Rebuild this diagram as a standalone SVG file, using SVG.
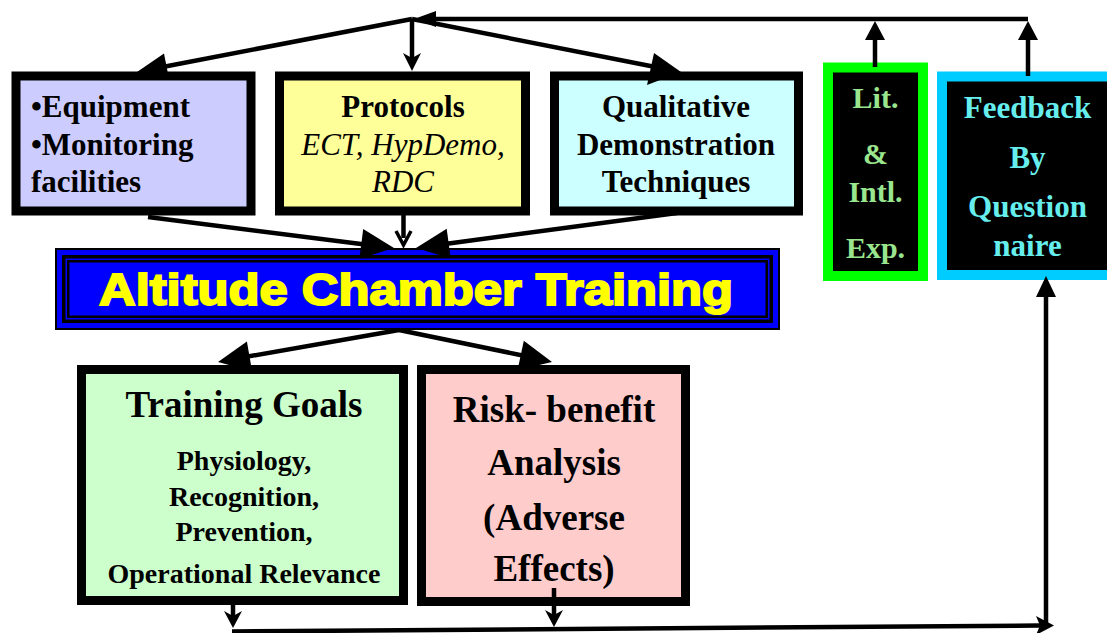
<svg xmlns="http://www.w3.org/2000/svg" width="1107" height="633" viewBox="0 0 1107 633">
<style>
.box{stroke:#000;stroke-width:9}
.t{font-family:"Liberation Serif","Times New Roman",serif;font-weight:bold;font-size:31px;fill:#000}
.c{text-anchor:middle}
.it{font-weight:normal;font-style:italic}
.ln{stroke:#000;stroke-width:4.5;fill:none}
.ah{fill:#000;stroke:none}
</style>
<rect width="1107" height="633" fill="#fff"/>
<g id="equipment">
<rect class="box" x="16" y="76" width="235" height="135" fill="#CCCCFF"/>
<text class="t" x="31" y="117">•Equipment</text>
<text class="t" x="31" y="155">•Monitoring</text>
<text class="t" x="31" y="192">facilities</text>
</g>
<g id="protocols">
<rect class="box" x="279.5" y="76" width="246" height="135" fill="#FFFF99"/>
<text class="t c" x="403" y="117">Protocols</text>
<text class="t c it" x="403" y="155">ECT, HypDemo,</text>
<text class="t c it" x="403" y="192">RDC</text>
</g>
<g id="qualitative">
<rect class="box" x="554.5" y="76" width="244" height="135" fill="#CCFFFF"/>
<text class="t c" x="676" y="117">Qualitative</text>
<text class="t c" x="676" y="155">Demonstration</text>
<text class="t c" x="676" y="192">Techniques</text>
</g>
<g id="literature">
<rect x="828" y="67.5" width="95" height="208.5" fill="#000" stroke="#00FF00" stroke-width="10"/>
<g class="t c" style="fill:#99E68F;font-size:30px">
<text x="875.5" y="108">Lit.</text>
<text x="875.5" y="164">&amp;</text>
<text x="875.5" y="202">Intl.</text>
<text x="875.5" y="258">Exp.</text>
</g>
</g>
<g id="feedback">
<rect x="942" y="76.5" width="200" height="198.5" fill="#000" stroke="#00CCFF" stroke-width="10"/>
<g class="t c" style="fill:#66EEEE">
<text x="1027.5" y="118">Feedback</text>
<text x="1027.5" y="168">By</text>
<text x="1027.5" y="217">Question</text>
<text x="1027.5" y="256">naire</text>
</g>
</g>
<g id="act">
<rect x="55" y="248" width="725" height="82" fill="#000"/>
<rect x="57" y="250" width="721" height="78" fill="#0000FF"/>
<rect x="62" y="255" width="711" height="68" fill="#000"/>
<rect x="65.5" y="258.5" width="704" height="61" fill="#0000FF"/>
<rect x="67" y="260" width="701" height="58" fill="#000"/>
<rect x="69.5" y="262.5" width="696" height="53" fill="#0000FF"/>
<text x="416" y="305" text-anchor="middle" textLength="634" lengthAdjust="spacingAndGlyphs" style="font-family:'Liberation Sans',Arial,sans-serif;font-weight:bold;font-size:45px;fill:#FFFF00;stroke:#FFFF00;stroke-width:2">Altitude Chamber Training</text>
</g>
<g id="goals">
<rect class="box" x="81.5" y="369.5" width="322" height="231" fill="#CCFFCC"/>
<text class="t c" x="244" y="417" style="font-size:37px">Training Goals</text>
<g class="t c" style="font-size:28px">
<text x="244" y="470">Physiology,</text>
<text x="244" y="506">Recognition,</text>
<text x="244" y="541">Prevention,</text>
<text x="244" y="583">Operational Relevance</text>
</g>
</g>
<g id="risk">
<rect class="box" x="421.5" y="369.5" width="264" height="232" fill="#FFCCCC"/>
<g class="t c" style="font-size:37px">
<text x="554" y="422">Risk- benefit</text>
<text x="554" y="475">Analysis</text>
<text x="554" y="530">(Adverse</text>
<text x="554" y="581">Effects)</text>
</g>
</g>
<g id="connectors">
<line class="ln" x1="432" y1="19" x2="1028" y2="19"/>
<polygon class="ah" points="414,19 436,11 436,27"/>
<line class="ln" x1="412" y1="19" x2="160" y2="67.5"/>
<polygon class="ah" points="137,72 169,79 164,53.5"/>
<line class="ln" x1="412" y1="19" x2="412" y2="58"/>
<polygon class="ah" points="412,71 403,53 412,58 421,53"/>
<line class="ln" x1="412" y1="19" x2="658" y2="67.5"/>
<polygon class="ah" points="681,72 647,85 654,53"/>
<line class="ln" x1="875" y1="67" x2="875" y2="36"/>
<polygon class="ah" points="875,21 865,40 885,40"/>
<line class="ln" x1="1028" y1="76" x2="1028" y2="36"/>
<polygon class="ah" points="1028,21 1018,40 1038,40"/>
<line class="ln" x1="148" y1="217" x2="365" y2="244.5"/>
<polygon class="ah" points="394,248 359.4,258.8 363.2,229"/>
<line class="ln" x1="677" y1="213" x2="445" y2="244"/>
<polygon class="ah" points="416,248 450.7,258.5 446.7,228.7"/>
<line class="ln" x1="403.5" y1="215" x2="403.5" y2="238"/>
<polyline points="396,231 403.5,245 411,231" fill="none" stroke="#000" stroke-width="3.5"/>
<line class="ln" x1="399" y1="330" x2="245" y2="357"/>
<polygon class="ah" points="218,362 252.1,371.2 246.9,341.6"/>
<line class="ln" x1="399" y1="330" x2="525" y2="356"/>
<polygon class="ah" points="552,362 517.6,370.1 523.8,340.7"/>
<line class="ln" x1="233" y1="605" x2="233" y2="618"/>
<polygon class="ah" points="233,628 224,611 233,616 242,611"/>
<line class="ln" x1="554" y1="588" x2="554" y2="618"/>
<polygon class="ah" points="554,627 545,610 554,615 563,610"/>
<line class="ln" x1="232" y1="631.5" x2="1040" y2="625.5"/>
<polygon class="ah" points="1054,625.5 1036,616 1040,625.5 1036,635"/>
<line class="ln" x1="1046" y1="628" x2="1046" y2="292"/>
<polygon class="ah" points="1046,276 1036,297 1056,297"/>
</g>
</svg>
